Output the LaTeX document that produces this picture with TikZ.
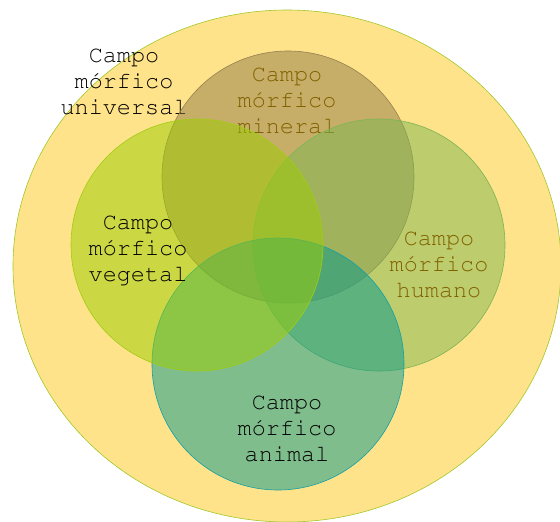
\documentclass[tikz,border=0pt]{standalone}
\usepackage[T1]{fontenc}
\newcommand{\courierfont}{\fontfamily{pcr}\selectfont}
\definecolor{univfill}{RGB}{255,227,138}
\definecolor{univline}{RGB}{160,200,40}
\definecolor{minfill}{RGB}{145,123,72}
\definecolor{minline}{RGB}{150,128,80}
\definecolor{vegfill}{RGB}{155,205,0}
\definecolor{vegline}{RGB}{160,205,20}
\definecolor{humfill}{RGB}{125,183,82}
\definecolor{humline}{RGB}{125,180,85}
\definecolor{anifill}{RGB}{0,153,142}
\definecolor{aniline}{RGB}{20,160,165}
\definecolor{brownt}{RGB}{127,96,0}
\begin{document}
\begin{tikzpicture}[x=1pt, y=-1pt, every node/.style={font=\courierfont\fontsize{23.5}{26}\selectfont, align=center}]
            \useasboundingbox (0,0) rectangle (560,522);
            \tikzset{field/.style={fill opacity=0.5, line width=0.6pt}}

            % Outer field
            \filldraw[fill=univfill, draw=univline, line width=0.6pt] (287,266) ellipse [x radius=274pt, y radius=256pt];
            \node (U) at (124,82) {Campo\\mórfico\\universal};

            % Mineral field, its label lies under the others
            \filldraw[field, fill=minfill, draw=minline] (288,177) circle [radius=126pt];
            \node[text=brownt] (M) at (287,101) {Campo\\mórfico\\mineral};

            % Remaining fields (vegetal on top)
            \filldraw[field, fill=humfill, draw=humline] (379,245) circle [radius=126pt];
            \filldraw[field, fill=anifill, draw=aniline] (278,364) circle [radius=126pt];
            \filldraw[field, fill=vegfill, draw=vegline] (197,245) circle [radius=126pt];

            % Labels
            \node (V) at (138,250) {Campo\\mórfico\\vegetal};
            \node[text=brownt] (H) at (439,265) {Campo\\mórfico\\humano};
            \begin{scope}
                \clip (200,380) rectangle (380,461);
                \node (A) at (287,429) {Campo\\mórfico\\animal};
            \end{scope}
        \end{tikzpicture}
\end{document}
